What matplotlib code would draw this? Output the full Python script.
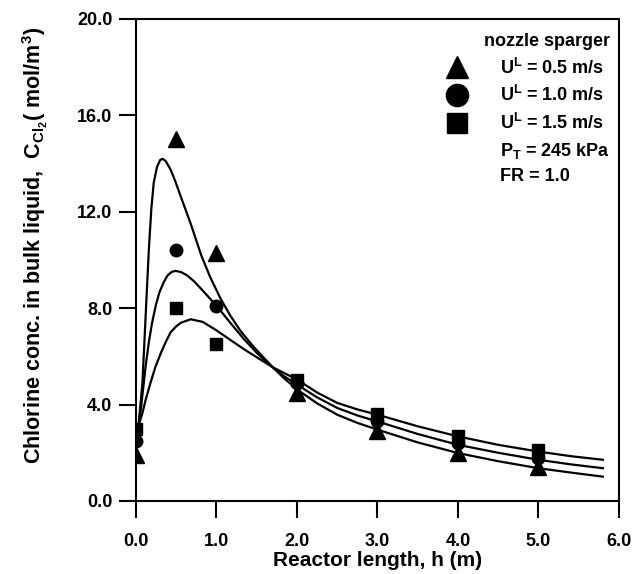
import matplotlib
matplotlib.use('Agg')
import matplotlib.pyplot as plt
from matplotlib.lines import Line2D
import numpy as np

plt.rcParams['font.family'] = ['Liberation Sans', 'DejaVu Sans']
plt.rcParams['font.weight'] = 'bold'
plt.rcParams['mathtext.fontset'] = 'custom'
plt.rcParams['mathtext.rm'] = 'Liberation Sans:bold'
plt.rcParams['mathtext.it'] = 'Liberation Sans:bold'
plt.rcParams['mathtext.bf'] = 'Liberation Sans:bold'

# measured points, h (m) vs C_Cl2 (mol/m3)
h_pts = [0.0, 0.5, 1.0, 2.0, 3.0, 4.0, 5.0]
c_05 = [1.9, 15.0, 10.3, 4.5, 2.9, 2.0, 1.4]
c_10 = [2.5, 10.4, 8.1, 4.9, 3.3, 2.4, 1.8]
c_15 = [3.0, 8.0, 6.5, 5.0, 3.6, 2.7, 2.1]

# model curves
h_m1 = [0.0, 0.03, 0.08, 0.12, 0.16, 0.19, 0.22, 0.26, 0.30, 0.33, 0.37, 0.43,
        0.49, 0.56, 0.68, 0.81, 0.92, 1.05, 1.17, 1.30, 1.46, 1.67, 1.83, 2.0,
        2.25, 2.5, 2.75, 3.0, 3.5, 4.0, 4.5, 5.0, 5.4, 5.8]
m_05 = [2.6, 3.1, 4.9, 7.7, 10.46, 12.1, 13.2, 13.85, 14.15, 14.2, 14.1, 13.75,
        13.25, 12.6, 11.5, 10.2, 9.3, 8.4, 7.7, 7.05, 6.4, 5.65, 5.12, 4.63,
        4.05, 3.58, 3.24, 2.96, 2.43, 1.99, 1.65, 1.36, 1.18, 1.01]

h_m2 = [0.0, 0.03, 0.06, 0.12, 0.16, 0.20, 0.245, 0.29, 0.34, 0.39, 0.44, 0.49,
        0.56, 0.64, 0.72, 0.81, 0.90, 1.0, 1.17, 1.34, 1.5, 1.67, 1.83, 2.0,
        2.25, 2.5, 2.75, 3.0, 3.5, 4.0, 4.5, 5.0, 5.4, 5.8]
m_10 = [2.6, 3.1, 3.8, 5.6, 6.6, 7.4, 8.1, 8.65, 9.05, 9.35, 9.5, 9.55,
        9.5, 9.35, 9.12, 8.8, 8.47, 8.1, 7.4, 6.72, 6.15, 5.62, 5.2, 4.83,
        4.3, 3.86, 3.55, 3.3, 2.78, 2.33, 2.0, 1.71, 1.52, 1.36]

h_m3 = [0.0, 0.03, 0.08, 0.12, 0.18, 0.24, 0.31, 0.37, 0.43, 0.50, 0.56, 0.68,
        0.83, 1.0, 1.13, 1.34, 1.54, 1.71, 2.0, 2.25, 2.5, 2.75, 3.0, 3.5, 4.0,
        4.5, 5.0, 5.4, 5.8]
m_15 = [2.6, 3.1, 3.65, 4.2, 4.9, 5.55, 6.15, 6.6, 7.0, 7.25, 7.4, 7.54,
        7.43, 7.08, 6.78, 6.3, 5.88, 5.53, 5.04, 4.5, 4.07, 3.8, 3.58, 3.1, 2.68,
        2.33, 2.05, 1.86, 1.71]

fig = plt.figure(figsize=(6.37, 5.74), dpi=100)
ax = fig.add_axes([0.2135, 0.1272, 0.7582, 0.8397])

for hh, cc in [(h_m1, m_05), (h_m2, m_10), (h_m3, m_15)]:
    ax.plot(hh, cc, color='k', lw=1.6, solid_joinstyle='round')

ax.plot(h_pts, c_05, '^', color='k', ms=11, ls='none', zorder=3)
ax.plot(h_pts, c_10, 'o', color='k', ms=9, ls='none', zorder=3)
ax.plot(h_pts, c_15, 's', color='k', ms=8.6, ls='none', zorder=3)

ax.set_xlim(0, 6)
ax.set_ylim(0, 20)
ax.set_xticks(np.arange(0, 6.1, 1.0))
ax.set_yticks(np.arange(0, 20.1, 4.0))
ax.set_xticklabels(['%.1f' % v for v in np.arange(0, 6.1, 1.0)])
ax.set_yticklabels(['%.1f' % v for v in np.arange(0, 20.1, 4.0)])
ax.tick_params(direction='out', length=12, width=1.5, labelsize=13)
ax.tick_params(axis='x', pad=11)
ax.tick_params(axis='y', pad=5)
for sp in ax.spines.values():
    sp.set_linewidth(1.5)

ax.set_xlabel('Reactor length, h (m)', fontsize=15, fontweight='bold', labelpad=1)
ax.set_ylabel(r'Chlorine conc. in bulk liquid,  C$_{\mathrm{Cl}_{\mathrm{2}}}$( mol/m$^{\mathrm{3}}$)',
              fontsize=15.5, fontweight='bold')
ax.yaxis.set_label_coords(-0.178, 0.53)

handles = [Line2D([], [], marker='^', color='k', ls='none', ms=16),
           Line2D([], [], marker='o', color='k', ls='none', ms=16),
           Line2D([], [], marker='s', color='k', ls='none', ms=15),
           Line2D([], [], ls='none'),
           Line2D([], [], ls='none')]
labels = [r'U$^{\mathrm{L}}$ = 0.5 m/s', r'U$^{\mathrm{L}}$ = 1.0 m/s',
          r'U$^{\mathrm{L}}$ = 1.5 m/s', r'P$_{\mathrm{T}}$ = 245 kPa', 'FR = 1.0']
leg = ax.legend(handles, labels, title='nozzle sparger', loc='upper right',
                bbox_to_anchor=(0.993, 0.982), frameon=False,
                prop={'size': 13, 'weight': 'bold'}, title_fontsize=13,
                handlelength=1.0, handletextpad=1.9, labelspacing=0.42,
                borderaxespad=0.0, borderpad=0.3)
leg.get_title().set_fontweight('bold')
leg._legend_box.align = 'right'

fig.savefig('out.png', dpi=100)
